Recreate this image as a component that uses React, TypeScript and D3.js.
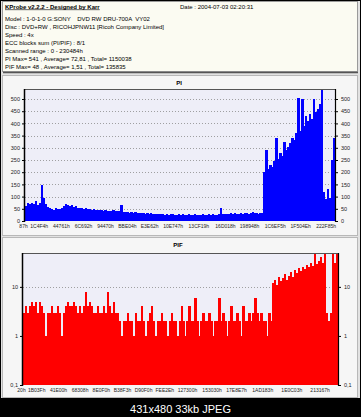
import { useEffect, useRef, useCallback } from 'react';
import * as d3 from 'd3';

const titleText = 'KProbe v2.2.2 - Designed by Karr';
const dateText = 'Date : 2004-07-03 02:20:31';
const headerLines = [
  'Model : 1-0-1-0 G:SONY    DVD RW DRU-700A  VY02',
  'Disc : DVD+RW , RICOHJPNW11 [Ricoh Company Limited]',
  'Speed : 4x',
  'ECC blocks sum (PI/PIF) : 8/1',
  'Scanned range : 0 - 230484h',
  'PI Max= 541 , Average= 72,81 , Total= 1150038',
  'PIF Max= 48 , Average= 1,51 , Total= 135835'
];
const captionText = '431x480 33kb JPEG';

const scanEnd = 0x230484;

const piTicks = [0, 50, 100, 150, 200, 250, 300, 350, 400, 450, 500];
const piXLabels = [
  '87h', '1C4F4h', '44761h', '6C692h', '94470h', 'BBE04h', 'E3E62h',
  '10E747h', '13CF19h', '16D018h', '198948h', '1C6EF5h', '1F504Eh', '222F85h'
];
const pifTicks = [0.1, 1, 10];
const pifTickLabels = ['0,1', '1', '10'];
const pifXLabels = [
  '20h', '1B03Fh', '41E00h', '68308h', '8E0F0h', 'B38F3h', 'D90F0h',
  'FEE2Eh', '127300h', '153030h', '17E8E7h', '1AD183h', '1E0C03h', '213167h'
];

// PI errors per sample across the disc
const piValues = [
  62, 72, 68, 75, 70, 80, 66, 72, 148, 95,
  70, 58, 52, 50, 47, 52, 48, 50, 55, 62,
  70, 65, 60, 66, 58, 60, 55, 55, 52, 50,
  53, 48, 50, 47, 49, 45, 47, 44, 44, 42,
  45, 40, 43, 41, 44, 39, 42, 40, 65, 38,
  36, 37, 34, 36, 33, 35, 32, 34, 31, 33,
  30, 32, 29, 31, 30, 28, 30, 29, 27, 28,
  26, 29, 25, 27, 28, 26, 24, 27, 25, 28,
  26, 24, 27, 25, 26, 28, 24, 26, 25, 27,
  24, 26, 28, 25, 27, 26, 24, 27, 53, 30,
  28, 30, 27, 31, 29, 32, 28, 30, 33, 29,
  31, 34, 30, 32, 35, 31, 33, 30, 34, 32,
  200, 290, 215, 230, 220, 245, 340, 255, 280, 265,
  324, 290, 305, 320, 340, 330, 360, 504, 370, 500,
  390, 430, 410, 440, 420, 500, 445, 460, 480, 541,
  120, 90, 130, 95, 250, 340
];

// PIF errors per sample across the disc
const pifValues = [
  3, 4, 3, 4, 5, 4, 5, 3, 5, 4,
  3, 1, 3, 3, 4, 3, 3, 4, 3, 1,
  3, 4, 5, 4, 4, 5, 4, 3, 4, 3,
  4, 8, 4, 5, 4, 3, 3, 4, 3, 3,
  4, 3, 8, 4, 3, 5, 3, 3, 2, 1,
  2, 2, 3, 2, 2, 1, 3, 2, 2, 4,
  2, 1, 2, 3, 4, 2, 1, 2, 2, 3,
  2, 2, 1, 2, 3, 2, 2, 1, 2, 4,
  2, 1, 2, 4, 2, 2, 6, 2, 1, 2,
  3, 2, 2, 3, 2, 1, 2, 2, 6, 2,
  3, 2, 1, 2, 4, 2, 2, 3, 2, 1,
  4, 2, 2, 3, 2, 3, 6, 3, 2, 3,
  2, 2, 1, 3, 2, 12, 14, 11, 16, 13,
  15, 18, 14, 17, 20, 16, 22, 19, 24, 21,
  26, 23, 28, 25, 30, 27, 48, 29, 33, 40,
  30, 48, 3, 2, 3, 48, 30, 48
];

const W = 361;
const H = 417;
const font = 'Liberation Sans, Arial, sans-serif';

type Sel = d3.Selection<SVGSVGElement, unknown, null, undefined>;

type PanelConfig = {
  top: number;
  height: number;
  title: string;
  titleX: number;
  left: number;
  right: number;
  plotTop: number;
  plotBottom: number;
  values: number[];
  y: d3.ScaleContinuousNumeric<number, number>;
  ticks: number[];
  tickFormat: (d: number, i: number) => string;
  grid: number[];
  xLabels: string[];
  fill: string;
};

const drawPanel = (svg: Sel, c: PanelConfig) => {
  // panel box
  svg
    .append('rect')
    .attr('x', 2.5)
    .attr('y', c.top + 0.5)
    .attr('width', 355)
    .attr('height', c.height)
    .attr('fill', '#f6f6f6')
    .attr('stroke', '#b8b8b8');

  svg
    .append('text')
    .attr('x', c.titleX)
    .attr('y', c.top + 10)
    .attr('text-anchor', 'middle')
    .style('font-family', font)
    .style('font-size', '6px')
    .style('font-weight', 'bold')
    .style('fill', '#000')
    .text(c.title);

  const g = svg.append('g');

  g.append('rect')
    .attr('x', c.left)
    .attr('y', c.plotTop)
    .attr('width', c.right - c.left)
    .attr('height', c.plotBottom - c.plotTop)
    .attr('fill', '#eeeef8');

  // dotted grid
  g.selectAll('.grid')
    .data(c.grid)
    .enter()
    .append('line')
    .attr('x1', c.left)
    .attr('x2', c.right)
    .attr('y1', (d) => Math.round(c.y(d)) + 0.5)
    .attr('y2', (d) => Math.round(c.y(d)) + 0.5)
    .attr('stroke', '#8a8a8a')
    .attr('stroke-width', 0.8)
    .attr('stroke-dasharray', '1,2');

  const xIdx = d3.scaleLinear().domain([0, c.values.length]).range([c.left, c.right]);

  // bars
  g.selectAll('.bar')
    .data(c.values)
    .enter()
    .append('rect')
    .attr('x', (_, i) => xIdx(i))
    .attr('width', (_, i) => xIdx(i + 1) - xIdx(i) + 0.3)
    .attr('y', (d) => c.y(d))
    .attr('height', (d) => c.plotBottom - c.y(d))
    .attr('fill', c.fill)
    .attr('shape-rendering', 'crispEdges');

  // frame
  g.append('line')
    .attr('x1', c.left)
    .attr('x2', c.right)
    .attr('y1', c.plotTop + 0.5)
    .attr('y2', c.plotTop + 0.5)
    .attr('stroke', '#555');
  g.append('line')
    .attr('x1', c.left - 0.5)
    .attr('x2', c.left - 0.5)
    .attr('y1', c.plotTop)
    .attr('y2', c.plotBottom + 1)
    .attr('stroke', '#000')
    .attr('stroke-width', 1.5);
  g.append('line')
    .attr('x1', c.right + 0.5)
    .attr('x2', c.right + 0.5)
    .attr('y1', c.plotTop)
    .attr('y2', c.plotBottom + 1)
    .attr('stroke', '#000')
    .attr('stroke-width', 1.2);

  // y axes
  const leftAxis = d3
    .axisLeft(c.y)
    .tickValues(c.ticks)
    .tickSize(2)
    .tickPadding(2)
    .tickFormat((d, i) => c.tickFormat(d as number, i));
  const rightAxis = d3
    .axisRight(c.y)
    .tickValues(c.ticks)
    .tickSize(2)
    .tickPadding(3)
    .tickFormat((d, i) => c.tickFormat(d as number, i));

  const la = g.append('g').attr('transform', `translate(${c.left - 1}, 0)`).call(leftAxis);
  const ra = g.append('g').attr('transform', `translate(${c.right + 1}, 0)`).call(rightAxis);
  [la, ra].forEach((a) => {
    a.select('.domain').remove();
    a.selectAll('.tick line').attr('stroke', '#000');
    a.selectAll('text')
      .style('font-family', font)
      .style('font-size', '5.5px')
      .style('fill', '#222');
  });

  // x labels at their addresses
  const xAddr = d3.scaleLinear().domain([0, scanEnd]).range([c.left, c.right]);
  const addrs = c.xLabels.map((l) => parseInt(l.replace('h', ''), 16));
  const xa = g
    .append('g')
    .attr('transform', `translate(-2, ${c.plotBottom + 1})`)
    .call(
      d3
        .axisBottom(xAddr)
        .tickValues(addrs)
        .tickSize(0)
        .tickPadding(2)
        .tickFormat((_, i) => c.xLabels[i])
    );
  xa.select('.domain').remove();
  xa.selectAll('text')
    .style('font-family', font)
    .style('font-size', '5px')
    .style('fill', '#222');
};

const KProbeChart = () => {
  const chartRef = useRef<SVGSVGElement | null>(null);

  const drawChart = useCallback(() => {
    if (!chartRef.current) return;
    const svg = d3.select(chartRef.current);
    svg.selectAll('*').remove();

    // frame and caption bar
    svg.append('rect').attr('width', W).attr('height', H).attr('fill', '#000');
    svg
      .append('rect')
      .attr('x', 1)
      .attr('y', 1)
      .attr('width', W - 2)
      .attr('height', 397)
      .attr('fill', '#e2e2e2');

    svg
      .append('text')
      .attr('x', W / 2)
      .attr('y', 413)
      .attr('text-anchor', 'middle')
      .style('font-family', font)
      .style('font-size', '11px')
      .style('fill', '#fff')
      .text(captionText);

    // header box
    svg
      .append('rect')
      .attr('x', 2.5)
      .attr('y', 1.5)
      .attr('width', 355)
      .attr('height', 70)
      .attr('fill', '#fbfbf2')
      .attr('stroke', '#9a9a9a');
    svg
      .append('line')
      .attr('x1', 3)
      .attr('x2', 358)
      .attr('y1', 72.5)
      .attr('y2', 72.5)
      .attr('stroke', '#555')
      .attr('stroke-width', 1.5);

    svg
      .append('text')
      .attr('x', 5)
      .attr('y', 8.5)
      .style('font-family', font)
      .style('font-size', '6px')
      .style('font-weight', 'bold')
      .style('text-decoration', 'underline')
      .style('fill', '#000')
      .text(titleText);

    svg
      .append('text')
      .attr('x', 180)
      .attr('y', 8.5)
      .style('font-family', font)
      .style('font-size', '6px')
      .style('fill', '#000')
      .text(dateText);

    svg
      .selectAll('.hline')
      .data(headerLines)
      .enter()
      .append('text')
      .attr('x', 5)
      .attr('y', (_, i) => 20.5 + i * 8)
      .style('font-family', font)
      .style('font-size', '6px')
      .style('white-space', 'pre')
      .style('fill', '#000')
      .text((d) => d);

    const piY = d3.scaleLinear().domain([0, 541]).range([221, 89]);
    drawPanel(svg, {
      top: 75,
      height: 160,
      title: 'PI',
      titleX: 179,
      left: 25,
      right: 335,
      plotTop: 89,
      plotBottom: 221,
      values: piValues,
      y: piY,
      ticks: piTicks,
      tickFormat: (d) => String(d),
      grid: piTicks.slice(1),
      xLabels: piXLabels,
      fill: '#0000ff'
    });

    const pifY = d3.scaleLog().domain([0.1, 49]).range([385, 253]);
    drawPanel(svg, {
      top: 237,
      height: 160,
      title: 'PIF',
      titleX: 178,
      left: 23,
      right: 338,
      plotTop: 253,
      plotBottom: 385,
      values: pifValues,
      y: pifY,
      ticks: pifTicks,
      tickFormat: (_, i) => pifTickLabels[i],
      grid: [10],
      xLabels: pifXLabels,
      fill: '#ff0000'
    });
  }, []);

  useEffect(() => {
    drawChart();
  }, [drawChart]);

  return (
    <svg
      ref={chartRef}
      width={W}
      height={H}
      style={{ position: 'absolute', left: 0, top: 0, display: 'block' }}
    />
  );
};

export default function App() {
  return <KProbeChart />;
}
